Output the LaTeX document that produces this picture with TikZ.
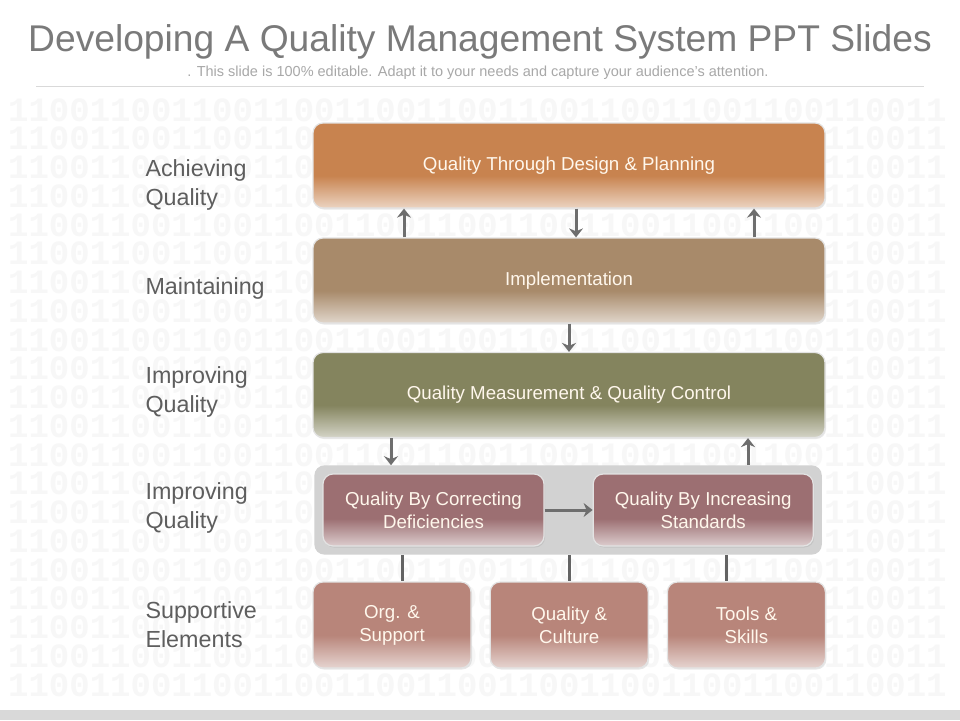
\documentclass[tikz,border=0pt]{standalone}
\usepackage{fontspec}
\setmainfont{Liberation Sans}
\newfontfamily\binfont{Liberation Mono}
\usetikzlibrary{arrows.meta,positioning,fit,shadows,backgrounds}

\definecolor{titlegray}{HTML}{7A7A7A}
\definecolor{subgray}{HTML}{A8A8A8}
\definecolor{labelgray}{HTML}{5E5E5E}
\definecolor{arrowgray}{HTML}{6E6E6E}
\definecolor{designcol}{HTML}{C8834F}
\definecolor{implcol}{HTML}{A88A6A}
\definecolor{measurecol}{HTML}{84845E}
\definecolor{qualitycol}{HTML}{9C6F72}
\definecolor{supportcol}{HTML}{B8857A}
\definecolor{panelcol}{HTML}{D2D2D2}
\definecolor{boxtext}{HTML}{FFF7EC}

% flat colour at the top, lighter towards the bottom edge
\pgfdeclareverticalshading[shbase,shfade]{boxfade}{100bp}{color(0bp)=(shfade); color(25bp)=(shfade); color(44bp)=(shbase); color(100bp)=(shbase)}

\begin{document}
\begin{tikzpicture}[
  x=1pt, y=-1pt,
  >={Stealth[length=9pt,width=14pt]},
  qbox/.style={rounded corners=10pt, draw=white!78!gray, line width=1.2pt,
    /utils/exec={\colorlet{shbase}{#1}\colorlet{shfade}{#1!35!white}},
    shading=boxfade, text=boxtext, align=center,
    font=\fontsize{18.7}{23}\selectfont,
    drop shadow={opacity=0.18, shadow xshift=1pt, shadow yshift=-1.5pt}},
  wide/.style={qbox=#1, minimum width=512pt, minimum height=85pt},
  small/.style={qbox=#1, minimum width=158pt, minimum height=86pt},
  side/.style={anchor=west, align=left, text=labelgray, font=\fontsize{23.3}{29}\selectfont},
  bits/.style={anchor=west, text=black!3, font=\binfont\bfseries\fontsize{34}{34}\selectfont, inner sep=0pt},
  arrow/.style={->, draw=arrowgray, line width=3pt},
  link/.style={draw=arrowgray!90!black, line width=3pt}
]
\useasboundingbox (0,0) rectangle (960,720);
\begin{scope}[on background layer]
\fill[white] (0,0) rectangle (960,720);
% binary texture behind the chart
\foreach \r in {0,...,20}
  \node[bits] (bin\r) at (8,{110+\r*28.75}) {1100110011001100110011001100110011001100110011};
\end{scope}

% heading
\node[text=titlegray, font=\fontsize{37.2}{40}\selectfont] (title) at (480,42) {Developing A Quality Management System PPT Slides};
\node[text=subgray, font=\fontsize{14.5}{16}\selectfont] (sub) at (478,73) {. This slide is 100\% editable. Adapt it to your needs and capture your audience's attention.};
\draw[gray!30, line width=0.8pt] (36,86) -- (924,86);
\fill[black!15] (0,710) rectangle (960,720);

% main levels
\node[wide=designcol] (design) at (569,165.5) {Quality Through Design \& Planning};
\node[wide=implcol] (impl) at (569,280.5) {Implementation};
\node[wide=measurecol] (measure) at (569,395) {Quality Measurement \& Quality Control};

\node[qbox=qualitycol, minimum width=221pt, minimum height=72pt] (correct) at (433.5,510) {Quality By Correcting\\Deficiencies};
\node[qbox=qualitycol, minimum width=220pt, minimum height=72pt, right=48pt of correct] (increase) {Quality By Increasing\\Standards};
\begin{scope}[on background layer]
\node[fit=(correct)(increase), inner sep=8pt, rounded corners=10pt, fill=panelcol] (grp) {};
\end{scope}

\node[small=supportcol] (org) at (392,625) {Org. \&\\Support};
\node[small=supportcol, right=18pt of org] (culture) {Quality \&\\Culture};
\node[small=supportcol, right=18pt of culture] (tools) {Tools \&\\Skills};

% side labels
\node[side] (lbl1) at (142,185) {Achieving\\Quality};
\node[side] (lbl2) at (142,288) {Maintaining};
\node[side] (lbl3) at (142,392) {Improving\\Quality};
\node[side] (lbl4) at (142,508) {Improving\\Quality};
\node[side] (lbl5) at (142,625) {Supportive\\Elements};

% connectors
\draw[arrow] ([xshift=-165pt]impl.north) -- ([xshift=-165pt]design.south);
\draw[arrow] ([xshift=7pt]design.south) -- ([xshift=7pt]impl.north);
\draw[arrow] ([xshift=185pt]impl.north) -- ([xshift=185pt]design.south);
\draw[arrow] (impl.south) -- (measure.north);
\draw[arrow] ([xshift=-178pt]measure.south) -- ([xshift=-178pt]measure.south |- grp.north);
\draw[arrow] ([xshift=179pt]measure.south |- grp.north) -- ([xshift=179pt]measure.south);
\draw[arrow] (correct.east) -- (increase.west);
\draw[link] ([xshift=10pt]org.north |- grp.south) -- ([xshift=10pt]org.north);
\draw[link] (culture.north |- grp.south) -- (culture.north);
\draw[link] ([xshift=-20pt]tools.north |- grp.south) -- ([xshift=-20pt]tools.north);
\end{tikzpicture}
\end{document}
